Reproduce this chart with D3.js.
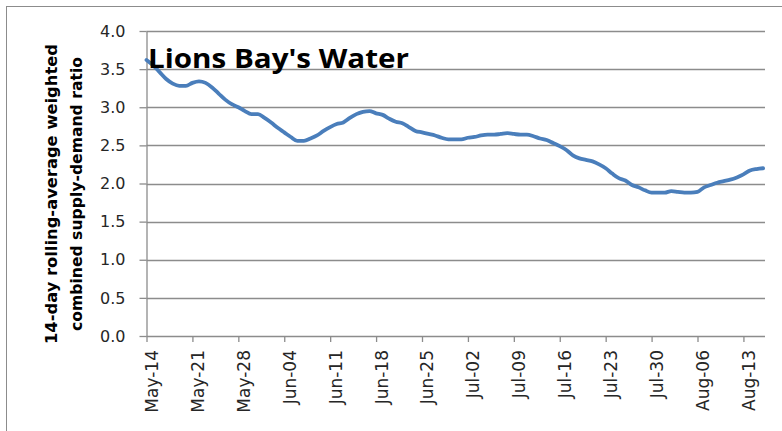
<!DOCTYPE html>
<html>
<head>
<meta charset="utf-8">
<script src="https://cdn.jsdelivr.net/npm/d3@7"></script>
<style>
  body { margin: 0; background: #fff; }
  svg { display: block; }
</style>
</head>
<body>
<div id="chart"></div>
<script>
// daily 14-day rolling average, starting May-14
var startDay = "2015-05-14";
var ratioValues = [
  3.62, 3.55, 3.46, 3.37, 3.31, 3.28, 3.28, 3.32, 3.34, 3.32,
  3.26, 3.18, 3.10, 3.04, 3.00, 2.95, 2.91, 2.91, 2.86, 2.80,
  2.73, 2.67, 2.61, 2.56, 2.56, 2.59, 2.63, 2.69, 2.74, 2.78,
  2.80, 2.86, 2.91, 2.94, 2.95, 2.92, 2.90, 2.85, 2.81, 2.79,
  2.74, 2.69, 2.67, 2.65, 2.63, 2.60, 2.58, 2.58, 2.58, 2.60,
  2.61, 2.63, 2.64, 2.64, 2.65, 2.66, 2.65, 2.64, 2.64, 2.62,
  2.59, 2.57, 2.53, 2.49, 2.44, 2.37, 2.33, 2.31, 2.29, 2.25,
  2.20, 2.13, 2.07, 2.04, 1.98, 1.95, 1.91, 1.88, 1.88, 1.88,
  1.90, 1.89, 1.88, 1.88, 1.89, 1.95, 1.98, 2.01, 2.03, 2.05,
  2.08, 2.12, 2.17, 2.19, 2.20
];
var xTickLabels = ["May-14", "May-21", "May-28", "Jun-04", "Jun-11", "Jun-18", "Jun-25",
                   "Jul-02", "Jul-09", "Jul-16", "Jul-23", "Jul-30", "Aug-06", "Aug-13"];
var yTicks = [0, 0.5, 1.0, 1.5, 2.0, 2.5, 3.0, 3.5, 4.0];
var chartTitle = "Lions Bay's Water";
var yTitleLines = ["14-day rolling-average weighted", "combined supply-demand ratio"];

var width = 782;
var height = 431;
var plotLeft = 146.5, plotRight = 765, plotTop = 31, plotBottom = 336;

var parseDay = d3.timeParse("%Y-%m-%d");
var parseTick = d3.timeParse("%Y-%b-%d");
var t0 = parseDay(startDay);
var data = ratioValues.map(function(v, i) {
    return {date: d3.timeDay.offset(t0, i), value: v};
});
var tickDates = xTickLabels.map(function(s) { return parseTick("2015-" + s); });

var x = d3.scaleTime()
        .domain([t0, data[data.length - 1].date])
        .range([plotLeft, 763.1]);
var y = d3.scaleLinear()
        .domain([0, 4])
        .range([plotBottom, plotTop]);

var svg = d3.select("#chart")
        .append("svg")
        .attr("width", width)
        .attr("height", height);

// outer chart border (runs off the page on right and bottom)
svg.append("rect")
    .attr("x", 6.5)
    .attr("y", 6.5)
    .attr("width", 820)
    .attr("height", 460)
    .style("fill", "none")
    .style("stroke", "#8c8c8c")
    .style("stroke-width", 1);

// gridlines
svg.append("g")
    .selectAll("line")
    .data(yTicks.filter(function(d) { return d > 0; }))
    .enter()
    .append("line")
    .attr("x1", plotLeft)
    .attr("x2", plotRight)
    .attr("y1", function(d) { return Math.round(y(d)) + 0.5; })
    .attr("y2", function(d) { return Math.round(y(d)) + 0.5; })
    .style("stroke", "#8c8c8c")
    .style("stroke-width", 1.3);

// y axis
var yAxis = svg.append("g")
    .attr("transform", "translate(" + plotLeft + ",0)")
    .call(d3.axisLeft(y)
        .tickValues(yTicks)
        .tickFormat(d3.format(".1f"))
        .tickSize(7)
        .tickSizeOuter(0)
        .tickPadding(14));
yAxis.selectAll("text")
    .style("font-family", "'DejaVu Sans', sans-serif")
    .style("font-size", "16px")
    .style("fill", "#262626");

// x axis
var xAxis = svg.append("g")
    .attr("transform", "translate(0," + plotBottom + ")")
    .call(d3.axisBottom(x)
        .tickValues(tickDates)
        .tickFormat(function(d, i) { return xTickLabels[i]; })
        .tickSize(6)
        .tickSizeOuter(0));
xAxis.select(".domain").attr("d", "M" + plotLeft + ",0.5H" + plotRight);
xAxis.selectAll("text")
    .attr("transform", "rotate(-90)")
    .attr("x", -14)
    .attr("y", 5)
    .attr("dy", "0.35em")
    .style("text-anchor", "end")
    .style("font-family", "'DejaVu Sans', sans-serif")
    .style("font-size", "17px")
    .style("fill", "#262626");

svg.selectAll(".domain, .tick line")
    .style("stroke", "#8c8c8c")
    .style("stroke-width", 1.3);

// the series
var line = d3.line()
    .x(function(d) { return x(d.date); })
    .y(function(d) { return y(d.value); })
    .curve(d3.curveMonotoneX);

svg.append("path")
    .datum(data)
    .attr("d", line)
    .style("fill", "none")
    .style("stroke", "#4a7ebb")
    .style("stroke-width", 3.8)
    .style("stroke-linecap", "round")
    .style("stroke-linejoin", "round");

// title inside the plot
svg.append("text")
    .attr("x", 148)
    .attr("y", 68)
    .attr("textLength", 261)
    .attr("lengthAdjust", "spacingAndGlyphs")
    .text(chartTitle)
    .style("font-family", "'Open Sans', sans-serif")
    .style("font-weight", "700")
    .style("font-size", "27px")
    .style("fill", "#000");

// y axis title, two lines
var yTitleX = [57, 82];
var yTitleLen = [300, 274];
svg.append("g")
    .selectAll("text")
    .data(yTitleLines)
    .enter()
    .append("text")
    .attr("transform", function(d, i) { return "translate(" + yTitleX[i] + ",194) rotate(-90)"; })
    .attr("textLength", function(d, i) { return yTitleLen[i]; })
    .attr("lengthAdjust", "spacingAndGlyphs")
    .style("text-anchor", "middle")
    .style("font-family", "'DejaVu Sans', sans-serif")
    .style("font-weight", "bold")
    .style("font-size", "15px")
    .style("fill", "#000")
    .text(function(d) { return d; });
</script>
</body>
</html>
